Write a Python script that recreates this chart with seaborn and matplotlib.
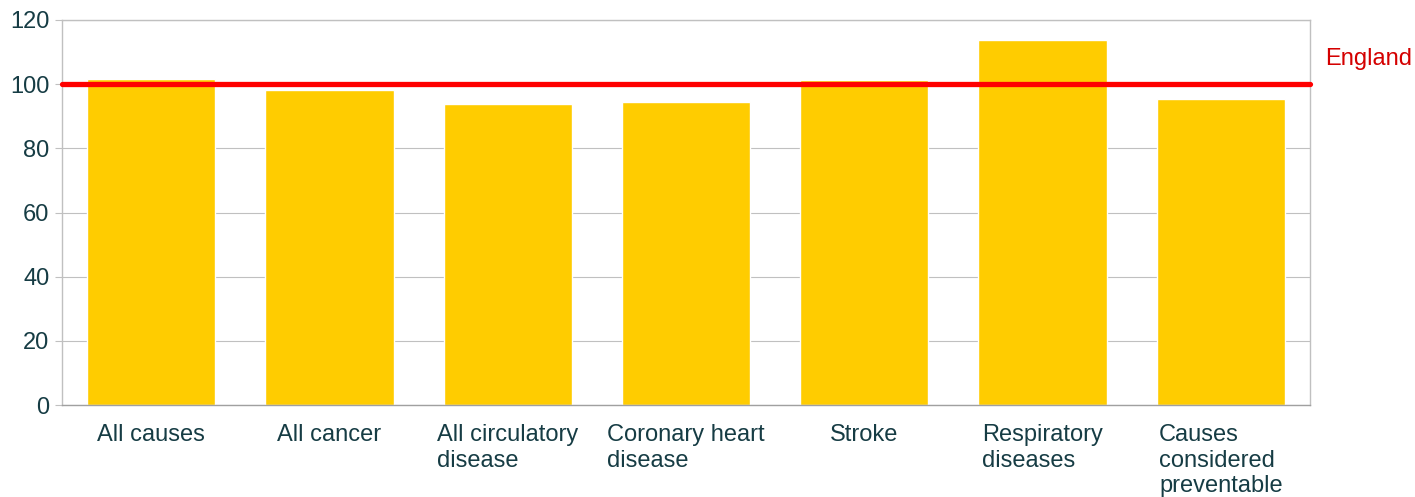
import matplotlib
matplotlib.use("Agg")
import matplotlib.pyplot as plt
import pandas as pd
import seaborn as sns

# データ
categories = [
    "All causes",
    "All cancer",
    "All circulatory\ndisease",
    "Coronary heart\ndisease",
    "Stroke",
    "Respiratory\ndiseases",
    "Causes\nconsidered\npreventable",
]
smr_values = [101.7, 98.3, 93.9, 94.5, 101.3, 113.7, 95.5]
england_value = 100
y_ticks = [0, 20, 40, 60, 80, 100, 120]

df = pd.DataFrame({"cause": categories, "smr": smr_values})

sns.set_theme(style="white")
plt.rcParams["font.family"] = ["Liberation Sans", "DejaVu Sans"]

text_color = "#163c44"
grid_color = "#c0c0c0"

fig = plt.figure(figsize=(14.15, 4.97), dpi=100)
ax = fig.add_axes([62 / 1415, 1 - 405 / 497, 1248 / 1415, 385 / 497])

sns.barplot(data=df, x="cause", y="smr", color="#ffcc00", saturation=1,
            width=0.72, ax=ax, zorder=2)

# England 基準線
ax.axhline(england_value, color="#ff0000", linewidth=3.8, zorder=3, clip_on=False)
ax.text(1.012, 107.8, "England", color="#d40000", fontsize=17,
        transform=ax.get_yaxis_transform(), ha="left", va="center")

ax.set_ylim(0, 120)
ax.set_xlim(-0.5, len(categories) - 0.5)
ax.set_yticks(y_ticks)
ax.yaxis.grid(True, color=grid_color, linewidth=0.8, zorder=0)
ax.set_axisbelow(True)
ax.set_xlabel("")
ax.set_ylabel("")

for s in ax.spines.values():
    s.set_color(grid_color)
    s.set_linewidth(1.0)
ax.spines["bottom"].set_color("#a0a0a0")

ax.tick_params(axis="y", left=True, length=5, width=0.8, color=grid_color,
               labelsize=17, labelcolor=text_color, pad=4)
ax.tick_params(axis="x", bottom=False, labelsize=17, labelcolor=text_color, pad=8)

# x ラベル: 中央配置、複数行は左揃え
for lbl in ax.get_xticklabels():
    lbl.set_horizontalalignment("center")
    lbl.set_multialignment("left")
    lbl.set_verticalalignment("top")
    lbl.set_linespacing(1.2)

fig.savefig("out.png", dpi=100)
plt.close(fig)
